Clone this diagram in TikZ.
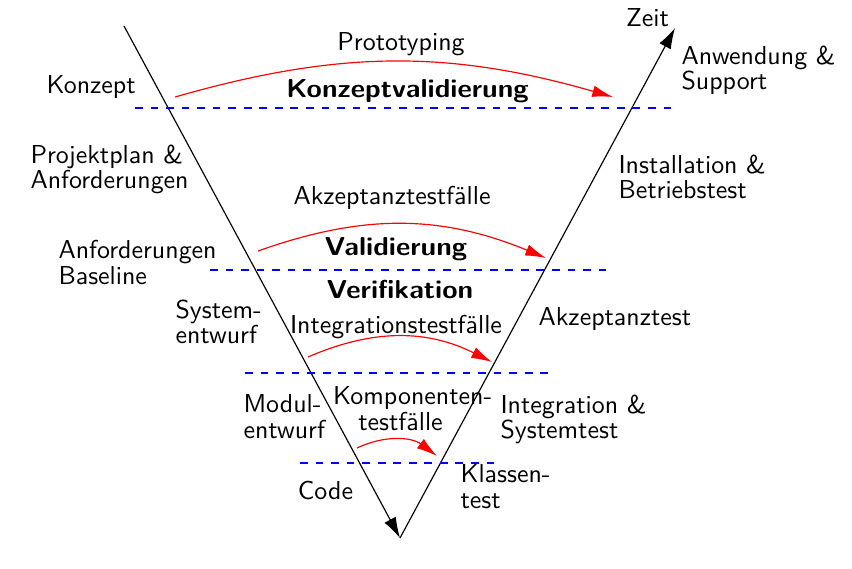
\documentclass[tikz,border=0pt]{standalone}
\usepackage{fontspec}
\usepackage{graphicx}
\usetikzlibrary{arrows.meta}
\newcommand{\wbold}[1]{\scalebox{1.075}[1]{\bfseries #1}}
\begin{document}
\begin{tikzpicture}[x=0.386pt,y=-0.386pt,
  font=\sffamily\fontsize{10}{10}\selectfont,
  lbl/.style={inner sep=0pt, anchor=north west, align=left},
  ctr/.style={inner sep=0pt, anchor=base},
  lft/.style={inner sep=0pt, anchor=base west},
  vline/.style={black, line width=0.45pt, -{Latex[length=8pt,width=5pt]}},
  dashln/.style={blue, dashed, line width=0.45pt},
  rarrow/.style={red, line width=0.45pt, -{Latex[length=8pt,width=4.5pt]}},
]
\useasboundingbox (0,0) rectangle (852,568);
% V axes
\coordinate (tl) at (124,26);
\coordinate (bot) at (400,538);
\coordinate (tr) at (675,28);
\draw[vline] (tl) -- (bot);
\draw[vline] (bot) -- (tr);
% dashed level lines
\coordinate (d1a) at (135,108); \coordinate (d1b) at (677,108);
\coordinate (d2a) at (210,270); \coordinate (d2b) at (613,270);
\coordinate (d3a) at (245,373); \coordinate (d3b) at (555,373);
\coordinate (d4a) at (300,463); \coordinate (d4b) at (500,463);
\draw[dashln] (d1a) -- (d1b);
\draw[dashln] (d2a) -- (d2b);
\draw[dashln] (d3a) -- (d3b);
\draw[dashln] (d4a) -- (d4b);
% red arrows
\coordinate (r1a) at (175,97);  \coordinate (r1b) at (613,97);
\coordinate (r2a) at (258,251); \coordinate (r2b) at (546,258);
\coordinate (r3a) at (308,357); \coordinate (r3b) at (492,362);
\coordinate (r4a) at (357,448); \coordinate (r4b) at (437,456);
\draw[rarrow] (r1a) to[bend left=16] (r1b);
\draw[rarrow] (r2a) to[bend left=21] (r2b);
\draw[rarrow] (r3a) to[bend left=25] (r3b);
\draw[rarrow] (r4a) to[bend left=31] (r4b);
% texts
\node[ctr] (zeit) at (647.5,26) {Zeit};
\node[ctr] (proto) at (401,50) {Prototyping};
\node[ctr] (kval) at (407.5,97) {\wbold{Konzeptvalidierung}};
\node[lft] (konz) at (46,93) {Konzept};
\node[lbl] (anw) at (681,45) {Anwendung \&\\Support};
\node[lbl] (proj) at (30,144) {Projektplan \&\\Anforderungen};
\node[lbl] (inst) at (618,154) {Installation \&\\Betriebstest};
\node[ctr] (akzf) at (392,204) {Akzeptanztestfälle};
\node[ctr] (vali) at (396,255) {\wbold{Validierung}};
\node[lbl] (anfb) at (58,240) {Anforderungen\\Baseline};
\node[ctr] (veri) at (400,298) {\wbold{Verifikation}};
\node[lbl] (syse) at (175,299) {System-\\entwurf};
\node[ctr] (intf) at (396,333) {Integrationstestfälle};
\node[lft] (akzt) at (538,325) {Akzeptanztest};
\node[lbl] (mode) at (243,394) {Modul-\\entwurf};
\node[inner sep=0pt, anchor=north, text width=52pt, align=center] (komp) at (400.5,386) {\mbox{Komponenten-}\\testfälle};
\node[lbl] (ints) at (500,394) {Integration \&\\Systemtest};
\node[ctr] (code) at (325.5,499) {Code};
\node[lbl] (klas) at (460,464) {Klassen-\\test};
\end{tikzpicture}
\end{document}
